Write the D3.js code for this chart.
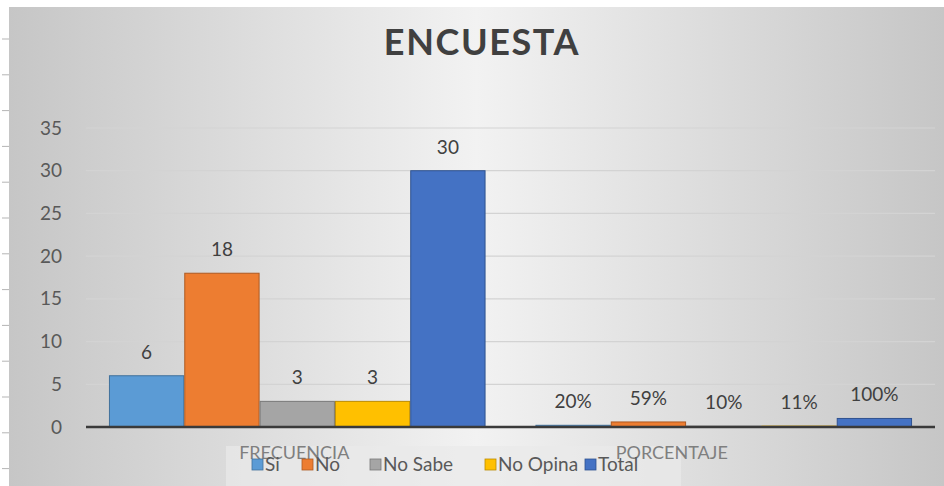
<!DOCTYPE html>
<html><head><meta charset="utf-8">
<script src="https://cdn.jsdelivr.net/npm/d3@7/dist/d3.min.js"></script>
<style>body{margin:0;background:#fff}svg{display:block}</style>
</head><body>
<svg id="c" width="944" height="486"></svg>
<script>
const title = "ENCUESTA";
const groups = ["FRECUENCIA", "PORCENTAJE"];
const seriesNames = ["Si", "No", "No Sabe", "No Opina", "Total"];
const frecuencia = [6, 18, 3, 3, 30];
const porcentaje = [0.20, 0.59, 0.10, 0.11, 1.00];
const porcentajeLabels = ["20%", "59%", "10%", "11%", "100%"];
const yTicks = [0, 5, 10, 15, 20, 25, 30, 35];
const colors = ["#5b9bd5", "#ed7d31", "#a5a5a5", "#ffc000", "#4472c4"];
const strokes = ["#41719c", "#ae5a21", "#787878", "#bc8c00", "#2f528f"];

const W = 944, H = 486;
const svg = d3.select("#c");
const defs = svg.append("defs");
const g1 = defs.append("linearGradient").attr("id","bg").attr("x1","0").attr("x2","1").attr("y1","0").attr("y2","0");
g1.append("stop").attr("offset","0").attr("stop-color","#c6c6c6");
g1.append("stop").attr("offset","0.5").attr("stop-color","#f2f2f2");
g1.append("stop").attr("offset","1").attr("stop-color","#c6c6c6");

svg.append("rect").attr("width",W).attr("height",H).attr("fill","#fff");
svg.append("rect").attr("x",9).attr("y",7).attr("width",W-9).attr("height",H-7).attr("fill","url(#bg)");
// ruler-like marks on left edge
svg.append("g").selectAll("line").data(d3.range(39, 480, 35.8)).join("line")
  .attr("x1",2).attr("x2",9).attr("y1",d=>d).attr("y2",d=>d)
  .attr("stroke","#b5b5b5").attr("stroke-width",1);

const margin = {left: 84, right: 7, top: 128, bottom: 59};
const x0 = d3.scaleBand().domain(groups).range([margin.left, W - margin.right]).paddingInner(0.117).paddingOuter(0.0585);
const x1 = d3.scaleBand().domain(seriesNames).range([0, x0.bandwidth()]);
const y = d3.scaleLinear().domain([0, 35]).range([H - margin.bottom, margin.top]);

// gridlines
svg.append("g").selectAll("line").data(yTicks.filter(d=>d>0)).join("line")
  .attr("x1", margin.left+2).attr("x2", W - margin.right - 2)
  .attr("y1", d=>y(d)).attr("y2", d=>y(d))
  .attr("stroke","#d3d3d3").attr("stroke-width",1.2);

// y axis labels
const yAxis = d3.axisLeft(y).tickValues(yTicks).tickSize(0).tickPadding(0);
const ya = svg.append("g").attr("transform",`translate(62,0)`).call(yAxis);
ya.select(".domain").remove();
ya.selectAll("text").attr("font-family","Lato, 'Open Sans', sans-serif").attr("font-size",19).attr("fill","#595959");

const data = [
  {group: groups[0], values: frecuencia, labels: frecuencia.map(String)},
  {group: groups[1], values: porcentaje, labels: porcentajeLabels}
];

const gg = svg.append("g").selectAll("g").data(data).join("g")
  .attr("transform", d=>`translate(${x0(d.group)},0)`);
gg.selectAll("rect").data(d=>d.values.map((v,i)=>({v,i}))).join("rect")
  .attr("x", d=>x1(seriesNames[d.i])+0.5).attr("width", x1.bandwidth()-1)
  .attr("y", d=>y(d.v)).attr("height", d=>y(0)-y(d.v))
  .attr("fill", d=>colors[d.i]).attr("stroke", d=>strokes[d.i]).attr("stroke-width",1);
gg.selectAll("text").data(d=>d.values.map((v,i)=>({v,i,l:d.labels[i]}))).join("text")
  .attr("x", d=>x1(seriesNames[d.i]) + x1.bandwidth()/2)
  .attr("y", d=>y(d.v) - 17)
  .attr("text-anchor","middle")
  .attr("font-family","Lato, 'Open Sans', sans-serif").attr("font-size",19).attr("fill","#404040")
  .text(d=>d.l);

// x axis line
svg.append("line").attr("x1", margin.left+2).attr("x2", W - margin.right - 2)
  .attr("y1", y(0)).attr("y2", y(0)).attr("stroke","#3a3a3a").attr("stroke-width",2.5);

// legend background
svg.append("rect").attr("x",226).attr("y",446).attr("width",455).attr("height",40).attr("fill","#e9e9e9").attr("opacity",0.7);

// category labels
const catOffset = [-3, -52];
svg.append("g").selectAll("text").data(groups).join("text")
  .attr("x", (d,i)=>x0(d)+x0.bandwidth()/2 + catOffset[i])
  .attr("y", 459)
  .attr("text-anchor","middle")
  .attr("font-family","Lato, 'Open Sans', sans-serif").attr("font-size",18).attr("fill","#7f7f7f")
  .text(d=>d);

// legend
const legendX = [252, 302, 370, 485, 585];
const lg = svg.append("g").selectAll("g").data(seriesNames).join("g")
  .attr("transform",(d,i)=>`translate(${legendX[i]},459)`);
lg.append("rect").attr("width",11).attr("height",11).attr("fill",(d,i)=>colors[i]).attr("stroke",(d,i)=>strokes[i]).attr("stroke-width",0.8);
lg.append("text").attr("x",13).attr("y",12).attr("font-family","Lato, 'Open Sans', sans-serif")
  .attr("font-size",19).attr("fill","#595959").text(d=>d);

// title
svg.append("text").attr("x",482).attr("y",55).attr("text-anchor","middle")
  .attr("font-family","Lato, 'Open Sans', sans-serif").attr("font-weight","bold")
  .attr("font-size",36).attr("letter-spacing",1.6).attr("fill","#404040").text(title);
</script>
</body></html>
